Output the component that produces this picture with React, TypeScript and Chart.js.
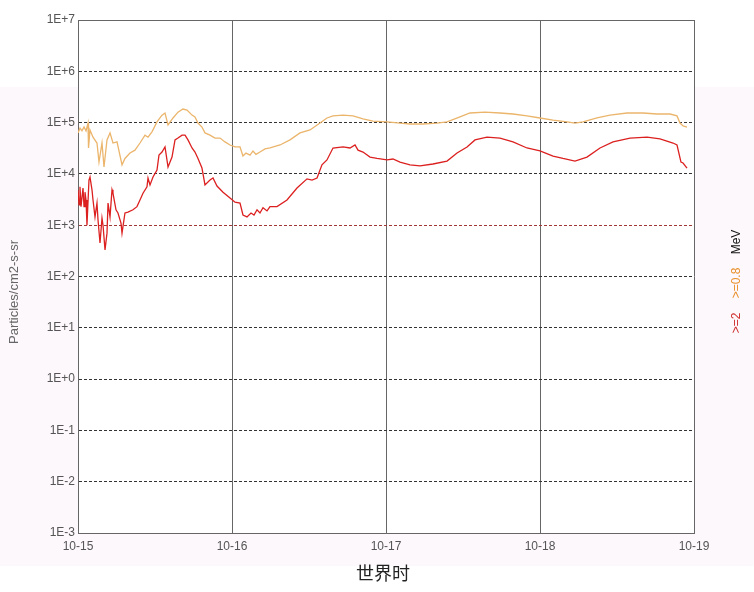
import React, { useEffect, useRef } from 'react';
import { Chart, registerables } from 'chart.js';

Chart.register(...registerables);

// X axis: hours since 10-15 00:00 UT
const xTickHours = [0, 24, 48, 72, 96];
const xTickLabels = ['10-15', '10-16', '10-17', '10-18', '10-19'];

const yTickValues = [1e-3, 1e-2, 1e-1, 1e0, 1e1, 1e2, 1e3, 1e4, 1e5, 1e6, 1e7];
const yTickLabels = ['1E-3', '1E-2', '1E-1', '1E+0', '1E+1', '1E+2', '1E+3', '1E+4', '1E+5', '1E+6', '1E+7'];

// >=0.8 MeV electron flux
const hoursOrange = [
  0, 0.31, 0.62, 0.94, 1.25, 1.56, 1.64, 1.87, 2.34, 2.96, 3.27, 3.74, 4.05, 4.52, 4.99, 5.45,
  6.08, 6.86, 7.32, 8.1, 8.88, 9.66, 10.44, 10.91, 11.53, 12.31, 13.09, 13.56, 14.03, 14.81,
  15.58, 16.36, 16.99, 17.77, 18.23, 18.7, 19.32, 19.79, 20.57, 21.35, 22.13, 22.91, 23.69,
  24.47, 25.25, 25.71, 26.18, 26.81, 27.27, 27.74, 28.36, 29.14, 29.92, 31.48, 33.04, 34.6,
  36.16, 37.71, 38.8, 39.74, 41.3, 42.86, 44.42, 45.97, 48.16, 50.18, 51.74, 53.77, 55.95,
  57.51, 59.53, 61.09, 63.43, 65.77, 67.79, 69.97, 72.0, 74.03, 76.21, 77.45, 78.7, 80.88,
  82.91, 85.56, 88.05, 90.23, 92.26, 93.35, 93.82, 94.29, 94.91,
];
const valuesOrange = [
  6.3e4, 7.8e4, 6.9e4, 8.2e4, 6.9e4, 9.8e4, 3.2e4, 7.2e4, 5.2e4, 4.0e4, 1.7e4, 4.0e4, 1.36e4,
  4.6e4, 6.3e4, 4.0e4, 4.2e4, 1.5e4, 2.0e4, 2.55e4, 2.9e4, 4.0e4, 5.7e4, 5.2e4, 6.6e4, 1.03e5,
  1.4e5, 1.54e5, 9.0e4, 1.23e5, 1.6e5, 1.84e5, 1.76e5, 1.4e5, 1.29e5, 9.8e4, 8.2e4, 6.3e4,
  5.7e4, 5.0e4, 5.0e4, 4.2e4, 3.66e4, 3.35e4, 3.35e4, 2.23e4, 2.55e4, 2.33e4, 2.8e4, 2.4e4,
  2.67e4, 3.06e4, 3.2e4, 3.66e4, 4.6e4, 6.3e4, 7.2e4, 9.8e4, 1.23e5, 1.35e5, 1.4e5, 1.35e5,
  1.18e5, 1.07e5, 1.03e5, 9.8e4, 9.4e4, 9.4e4, 9.8e4, 1.03e5, 1.29e5, 1.54e5, 1.6e5, 1.54e5,
  1.47e5, 1.35e5, 1.23e5, 1.12e5, 1.03e5, 9.8e4, 1.03e5, 1.23e5, 1.4e5, 1.54e5, 1.54e5,
  1.47e5, 1.47e5, 1.35e5, 9.8e4, 8.6e4, 8.2e4,
];

// >=2 MeV electron flux
const hoursRed = [
  0, 0.16, 0.31, 0.47, 0.78, 0.94, 1.09, 1.25, 1.4, 1.71, 1.87, 2.18, 2.34, 2.65, 2.96, 3.12,
  3.43, 3.74, 3.9, 4.21, 4.52, 4.68, 4.99, 5.3, 5.45, 5.92, 6.23, 6.7, 6.86, 7.32, 7.79, 8.57,
  9.19, 9.66, 10.13, 10.75, 10.91, 11.22, 11.69, 12.31, 12.62, 13.09, 13.56, 14.03, 14.65,
  15.12, 15.58, 16.21, 16.68, 17.14, 17.77, 18.23, 18.7, 19.32, 19.79, 20.57, 21.04, 21.66,
  22.6, 23.69, 24.47, 25.25, 25.71, 26.34, 26.96, 27.43, 27.9, 28.36, 28.83, 29.46, 29.92,
  31.01, 32.57, 34.13, 35.69, 36.47, 37.25, 38.02, 38.8, 39.74, 41.3, 42.39, 43.17, 43.64,
  44.42, 45.51, 46.6, 48.16, 49.09, 50.18, 51.74, 53.3, 55.32, 57.51, 59.07, 60.63, 61.87,
  63.74, 65.77, 67.79, 69.97, 72.0, 74.03, 75.58, 77.45, 79.32, 81.35, 83.38, 86.03, 88.68,
  90.7, 92.73, 93.35, 93.97, 94.29, 94.91,
];
const valuesRed = [
  4.9e3, 2.5e3, 5.6e3, 2.3e3, 5.3e3, 2.3e3, 4.4e3, 3.1e3, 1.0e3, 7.6e3, 8.7e3, 4.9e3, 3.1e3,
  1.45e3, 2.7e3, 1.26e3, 450, 1.38e3, 1.0e3, 330, 700, 2.7e3, 1.45e3, 4.9e3, 4.2e3, 2.0e3,
  1.73e3, 1.1e3, 700, 1.73e3, 1.8e3, 2.0e3, 2.3e3, 3.1e3, 4.2e3, 5.6e3, 8.3e3, 6.1e3, 8.7e3,
  1.19e4, 2.33e4, 2.67e4, 3.35e4, 1.36e4, 2.13e4, 4.6e4, 5.0e4, 5.7e4, 5.7e4, 4.6e4, 3.2e4,
  2.67e4, 2.0e4, 1.3e4, 6.1e3, 7.6e3, 8.3e3, 5.8e3, 4.4e3, 3.4e3, 2.8e3, 2.7e3, 1.58e3,
  1.45e3, 1.73e3, 1.58e3, 2.0e3, 1.73e3, 2.2e3, 1.9e3, 2.3e3, 2.3e3, 3.1e3, 5.3e3, 8.0e3,
  7.6e3, 8.3e3, 1.5e4, 1.87e4, 3.2e4, 3.35e4, 3.2e4, 3.66e4, 2.9e4, 2.67e4, 2.13e4, 2.0e4,
  1.87e4, 1.95e4, 1.7e4, 1.5e4, 1.43e4, 1.56e4, 1.78e4, 2.55e4, 3.35e4, 4.6e4, 5.2e4, 5.0e4,
  4.2e4, 3.2e4, 2.8e4, 2.23e4, 2.0e4, 1.78e4, 2.13e4, 3.2e4, 4.2e4, 5.0e4, 5.2e4, 4.8e4,
  4.0e4, 3.66e4, 1.7e4, 1.63e4, 1.3e4,
];

const ORANGE = '#ebb56c';
const RED = '#dc2020';
const FONT = "'Liberation Sans', Arial, sans-serif";

const near = (a: number, b: number) => Math.abs(Math.log10(a) - Math.log10(b)) < 1e-6;

const decorPlugin = {
  id: 'decor',
  beforeDraw(chart: any) {
    const { ctx, chartArea } = chart;
    ctx.save();
    ctx.fillStyle = '#ffffff';
    ctx.fillRect(0, 0, chart.width, chart.height);
    ctx.fillStyle = '#fdf8fb';
    ctx.fillRect(0, 87, chart.width, 479);
    ctx.fillStyle = '#ffffff';
    ctx.fillRect(chartArea.left, chartArea.top, chartArea.right - chartArea.left, chartArea.bottom - chartArea.top);
    ctx.restore();
  },
  afterDraw(chart: any) {
    const { ctx } = chart;
    ctx.save();
    // y title
    ctx.translate(14, 292);
    ctx.rotate(-Math.PI / 2);
    ctx.font = `13px ${FONT}`;
    ctx.fillStyle = '#666666';
    ctx.textAlign = 'center';
    ctx.textBaseline = 'middle';
    ctx.fillText('Particles/cm2-s-sr', 0, 0);
    ctx.restore();

    // x title
    ctx.save();
    ctx.font = "18px 'Noto Sans CJK SC', sans-serif";
    ctx.fillStyle = '#222222';
    ctx.textAlign = 'center';
    ctx.textBaseline = 'middle';
    ctx.fillText('世界时', 383, 573);
    ctx.restore();

    // right legend texts
    const items: [string, string, number][] = [
      ['MeV', '#111111', 242],
      ['>=0.8', '#e8902c', 283],
      ['>=2', '#d03030', 323],
    ];
    items.forEach(([t, c, y]) => {
      ctx.save();
      ctx.translate(737, y);
      ctx.rotate(-Math.PI / 2);
      ctx.font = `12px ${FONT}`;
      ctx.fillStyle = c;
      ctx.textAlign = 'center';
      ctx.textBaseline = 'middle';
      ctx.fillText(t, 0, 0);
      ctx.restore();
    });
  },
};

export default function App() {
  const ref = useRef<HTMLCanvasElement | null>(null);
  useEffect(() => {
    if (!ref.current) return;
    const chart = new Chart(ref.current, {
      type: 'line',
      data: {
        datasets: [
          {
            label: '>=0.8 MeV',
            data: hoursOrange.map((h, i) => ({ x: h, y: valuesOrange[i] })),
            borderColor: ORANGE,
            borderWidth: 1.3,
            pointRadius: 0,
            tension: 0,
          },
          {
            label: '>=2 MeV',
            data: hoursRed.map((h, i) => ({ x: h, y: valuesRed[i] })),
            borderColor: RED,
            borderWidth: 1.3,
            pointRadius: 0,
            tension: 0,
          },
        ],
      },
      options: {
        responsive: false,
        animation: false,
        devicePixelRatio: 1,
        layout: { padding: { top: 20, right: 60, left: 0, bottom: 0 } },
        plugins: { legend: { display: false }, tooltip: { enabled: false } },
        scales: {
          x: {
            type: 'linear',
            min: 0,
            max: 96,
            afterBuildTicks: (s: any) => {
              s.ticks = xTickHours.map((v) => ({ value: v }));
            },
            afterFit: (s: any) => {
              s.height = 59;
            },
            ticks: {
              autoSkip: false,
              maxRotation: 0,
              padding: 6,
              color: '#555555',
              font: { size: 12, family: FONT },
              callback: (v: any) => {
                const i = xTickHours.indexOf(Number(v));
                return i >= 0 ? xTickLabels[i] : '';
              },
            },
            grid: { color: '#666666', lineWidth: 1, drawTicks: false },
            border: { display: true, color: '#666666', width: 1 },
          },
          y: {
            type: 'logarithmic',
            min: 1e-3,
            max: 1e7,
            afterBuildTicks: (s: any) => {
              s.ticks = yTickValues.map((v) => ({ value: v }));
            },
            afterFit: (s: any) => {
              s.width = 78;
            },
            ticks: {
              padding: 3,
              color: '#555555',
              font: { size: 12, family: FONT },
              callback: (v: any) => {
                const i = yTickValues.findIndex((t) => near(t, Number(v)));
                return i >= 0 ? yTickLabels[i] : '';
              },
            },
            grid: {
              drawTicks: false,
              lineWidth: 1,
              color: (c: any) => {
                const v = c.tick ? c.tick.value : 0;
                if (near(v, 1e7) || near(v, 1e-3)) return '#666666';
                if (near(v, 1e3)) return '#a03838';
                return '#333333';
              },
            },
            border: {
              display: true,
              color: '#666666',
              width: 1,
              dash: (c: any) => {
                const v = c.tick ? c.tick.value : 0;
                if (near(v, 1e7) || near(v, 1e-3)) return [];
                return [3, 2];
              },
            },
          },
        },
      } as any,
      plugins: [decorPlugin],
    });
    return () => chart.destroy();
  }, []);
  return (
    <div style={{ position: 'absolute', left: 0, top: 0, width: 754, height: 592 }}>
      <canvas ref={ref} width={754} height={592} />
    </div>
  );
}
